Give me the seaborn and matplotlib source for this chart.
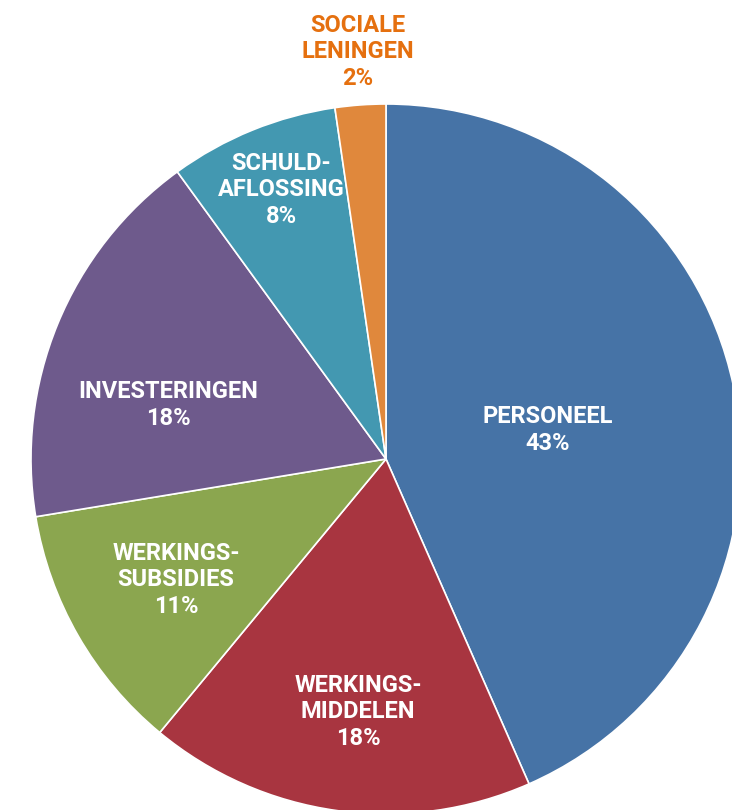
import matplotlib
matplotlib.use("Agg")
import matplotlib.pyplot as plt
import seaborn as sns

sns.set_theme(style="white")
plt.rcParams["font.family"] = ["Roboto", "DejaVu Sans"]

# slices, clockwise from the top
labels = ["PERSONEEL", "WERKINGS-\nMIDDELEN", "WERKINGS-\nSUBSIDIES",
          "INVESTERINGEN", "SCHULD-\nAFLOSSING", "SOCIALE\nLENINGEN"]
shares = [43.4, 17.6, 11.4, 17.6, 7.7, 2.3]
pct_text = ["43%", "18%", "11%", "18%", "8%", "2%"]
colors = ["#4673a6", "#a83540", "#8ba64f", "#6e5a8c", "#4398b1", "#e0883c"]

# label centres in pixel coords (x, y from bottom)
label_pos = [(548, 380), (358, 98), (176, 230), (168, 405), (281, 620), (358, 758)]
label_col = ["white"] * 5 + ["#e5700f"]

fig = plt.figure(figsize=(7.32, 8.10), dpi=100)
ax = fig.add_axes([0, 0, 1, 1])

ax.pie(shares, colors=colors, startangle=90, counterclock=False,
       center=(386, 351), radius=355,
       wedgeprops=dict(edgecolor="white", linewidth=1.2))

for lab, p, (x, y), c in zip(labels, pct_text, label_pos, label_col):
    ax.text(x, y, lab + "\n" + p, ha="center", va="center", color=c,
            fontsize=17, fontweight="bold", linespacing=1.2)

ax.set_xlim(0, 732)
ax.set_ylim(0, 810)
ax.set_aspect("equal")
ax.axis("off")

fig.savefig("out.png", dpi=100, facecolor="white")
